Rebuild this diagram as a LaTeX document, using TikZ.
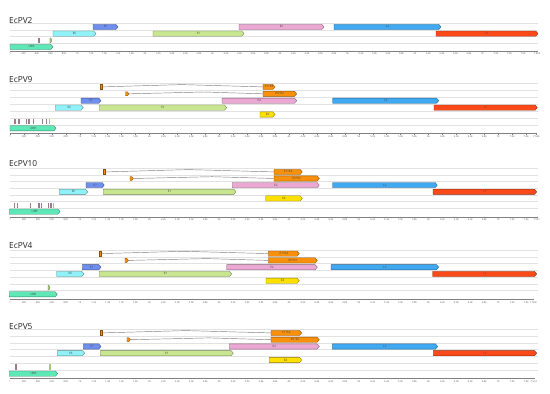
\documentclass[tikz,border=0pt]{standalone}
\usepackage{fontspec}
\setmainfont{Open Sans}
\definecolor{cE7}{HTML}{6F8FF0}
\definecolor{cE6}{HTML}{90F2F8}
\definecolor{cE1}{HTML}{C8E690}
\definecolor{cE2}{HTML}{EAA8D2}
\definecolor{cL2}{HTML}{3FA9F2}
\definecolor{cL1}{HTML}{FA4A1A}
\definecolor{cURR}{HTML}{5EE8B8}
\definecolor{cE4}{HTML}{FFE100}
\definecolor{cOr}{HTML}{F8900C}
\definecolor{cMk}{HTML}{9C7A8C}
\definecolor{cMg}{HTML}{A8C878}
\definecolor{laneg}{HTML}{E2E2E2}
\definecolor{titleg}{HTML}{222222}
\tikzset{
  genebox/.style={line width=0.35pt},
  glabel/.style={font=\fontsize{3}{3}\selectfont, text=black!75, inner sep=0pt},
  ticklbl/.style={font=\fontsize{2.5}{2.5}\selectfont, text=black!65, inner sep=0pt},
  axisln/.style={draw=black!50, line width=0.4pt},
  laneline/.style={draw=laneg, line width=0.6pt},
  intron/.style={draw=black!50, line width=0.45pt},
  ttl/.style={font=\fontsize{8.3}{9}\selectfont, text=titleg, inner sep=0pt, anchor=base west}
}
% gene arrow: name, x1, x2, top, colour, label
\newcommand{\gene}[6]{%
  \filldraw[genebox, fill=#5, draw=#5!55!black] (#2,#4) -- ({#3-2.2},#4) -- (#3,{#4+2.6}) -- ({#3-2.2},{#4+5.2}) -- (#2,{#4+5.2}) -- cycle;
  \node[glabel] (#1) at ({(#2+#3)/2},{#4+2.6}) {#6};
}
% spliced E1^E4: name, exon x, box x1, box x2, top
\newcommand{\spliceA}[5]{%
  \coordinate (#1s) at ({#2+2},{#5+2.6});
  \coordinate (#1p) at ({(#2+#3)/2},{#5+0.3});
  \coordinate (#1b) at (#3,{#5+2.6});
  \draw[intron] (#1s) -- (#1p) -- (#1b);
  \filldraw[genebox, fill=cOr, draw=cOr!55!black] (#2,#5) rectangle ({#2+2},{#5+5.2});
  \gene{#1}{#3}{#4}{#5}{cOr}{E1\textasciicircum E4}
}
% spliced E6^E2: name, exon x, box x1, box x2, top
\newcommand{\spliceB}[5]{%
  \coordinate (#1s) at ({#2+3.4},{#5+2.6});
  \coordinate (#1p) at ({(#2+#3)/2+10},{#5+0.8});
  \coordinate (#1b) at (#3,{#5+2.6});
  \draw[intron] (#1s) -- (#1p) -- (#1b);
  \filldraw[genebox, fill=cOr, draw=cOr!55!black] (#2,{#5+0.6}) -- ({#2+1.8},{#5+0.6}) -- ({#2+3.4},{#5+2.6}) -- ({#2+1.8},{#5+4.6}) -- (#2,{#5+4.6}) -- cycle;
  \gene{#1}{#3}{#4}{#5}{cOr}{E6\textasciicircum E2}
}
% marker bar: x, top, colour
\newcommand{\mk}[3]{%
  \fill[#3] ({#1-0.6},{#2+0.2}) rectangle ({#1+0.6},{#2+5.6});
}
% small marker arrow: x, top
\newcommand{\mka}[2]{%
  \filldraw[fill=cMg, draw=cMg!60!black, line width=0.25pt] ({#1-0.7},{#2+0.4}) -- ({#1+0.2},{#2+0.4}) -- ({#1+1.3},{#2+2.8}) -- ({#1+0.2},{#2+5.2}) -- ({#1-0.7},{#2+5.2}) -- cycle;
}
% lane lines: first top, pitch, count
\newcommand{\lanes}[3]{%
  \foreach \k in {1,...,#3} {
    \draw[laneline] (10,{#1+(\k-1)*#2-0.9}) -- (538,{#1+(\k-1)*#2-0.9});
  }
}
% axis: y, px per 200 bp, end x, end label
\newcommand{\seqaxis}[4]{%
  \draw[axisln] (10,#1) -- (#3,#1);
  \draw[axisln] (10,#1) -- ++(0,1.2);
  \node[ticklbl] at (10,{#1+3.3}) {1};
  \foreach \l [count=\c] in {200,400,600,800,1k,1.2k,1.4k,1.6k,1.8k,2k,2.2k,2.4k,2.6k,2.8k,3k,3.2k,3.4k,3.6k,3.8k,4k,4.2k,4.4k,4.6k,4.8k,5k,5.2k,5.4k,5.6k,5.8k,6k,6.2k,6.4k,6.6k,6.8k,7k,7.2k,7.4k,7.6k,7.8k} {
    \pgfmathsetmacro\xx{10+\c*#2}
    \pgfmathtruncatemacro\ok{\xx<(#3-7) ? 1 : 0}
    \ifnum\ok=1
      \draw[axisln] (\xx,#1) -- ++(0,1.2);
      \node[ticklbl] at (\xx,{#1+3.3}) {\l};
    \fi
  }
  \draw[axisln] (#3,#1) -- ++(0,1.2);
  \node[ticklbl] at (#3,{#1+3.3}) {#4};
}
\begin{document}
\begin{tikzpicture}[x=1pt,y=-1pt]
\useasboundingbox (0,0) rectangle (550,394);
\fill[white] (0,0) rectangle (550,394);

% ---------------- EcPV2 ----------------
\node[ttl] (t1) at (9,23) {EcPV2};
\lanes{24.3}{6.67}{4}
\gene{p1e7}{93}{118}{24.3}{cE7}{E7}
\gene{p1e2}{239}{324}{24.3}{cE2}{E2}
\gene{p1l2}{334}{441}{24.3}{cL2}{L2}
\gene{p1e6}{53}{96}{31}{cE6}{E6}
\gene{p1e1}{153}{244}{31}{cE1}{E1}
\gene{p1l1}{436}{538}{31}{cL1}{L1}
\mk{39}{37.6}{cMk}
\mka{50.6}{37.6}
\gene{p1urr}{10}{53}{44.3}{cURR}{URR}
\seqaxis{50.7}{13.5}{537}{7 802}

% ---------------- EcPV9 ----------------
\node[ttl] (t2) at (9,82) {EcPV9};
\lanes{84.3}{6.9}{7}
\spliceA{p2a}{100}{263}{275}{84.3}
\spliceB{p2b}{125.5}{263}{296.7}{91.2}
\gene{p2e7}{81}{101}{98.1}{cE7}{E7}
\gene{p2e2}{222}{296.7}{98.1}{cE2}{E2}
\gene{p2l2}{332.7}{438.7}{98.1}{cL2}{L2}
\gene{p2e6}{55.3}{83.3}{105}{cE6}{E6}
\gene{p2e1}{99.3}{226.7}{105}{cE1}{E1}
\gene{p2l1}{434}{537.3}{105}{cL1}{L1}
\gene{p2e4}{260}{275}{111.9}{cE4}{E4}
\foreach \m in {15,19,26.7,29,33.3,42.3,46.7} {\mk{\m}{118.8}{cMk}}
\mk{49.3}{118.8}{cMg}
\gene{p2urr}{10}{56}{125.7}{cURR}{URR}
\seqaxis{133.3}{13.95}{536.3}{7 548}

% ---------------- EcPV10 ----------------
\node[ttl] (t3) at (9,166.7) {EcPV10};
\lanes{169.3}{6.62}{7}
\spliceA{p3a}{103.5}{274}{302.3}{169.3}
\spliceB{p3b}{130}{274}{319.3}{175.9}
\gene{p3e7}{86}{104.3}{182.5}{cE7}{E7}
\gene{p3e2}{232.3}{319.3}{182.5}{cE2}{E2}
\gene{p3l2}{332.7}{437.3}{182.5}{cL2}{L2}
\gene{p3e6}{59.3}{87.7}{189.2}{cE6}{E6}
\gene{p3e1}{103.3}{236}{189.2}{cE1}{E1}
\gene{p3l1}{433}{536.7}{189.2}{cL1}{L1}
\gene{p3e4}{265.7}{302.3}{195.8}{cE4}{E4}
\foreach \m in {14.3,17.3,30.7,39,41.7,48.7,51} {\mk{\m}{202.4}{cMk}}
\mk{53.7}{202.4}{cMg}
\gene{p3urr}{9.3}{60}{209}{cURR}{URR}
\seqaxis{216.7}{13.95}{536.7}{7 551}

% ---------------- EcPV4 ----------------
\node[ttl] (t4) at (9,248.3) {EcPV4};
\lanes{251}{6.78}{7}
\spliceA{p4a}{99}{268.3}{299.3}{251}
\spliceB{p4b}{125}{268.3}{317.3}{257.8}
\gene{p4e7}{82.3}{101}{264.6}{cE7}{E7}
\gene{p4e2}{226.7}{317.3}{264.6}{cE2}{E2}
\gene{p4l2}{331}{438.7}{264.6}{cL2}{L2}
\gene{p4e6}{56.7}{84}{271.3}{cE6}{E6}
\gene{p4e1}{99.3}{231.7}{271.3}{cE1}{E1}
\gene{p4l1}{432.7}{536.7}{271.3}{cL1}{L1}
\gene{p4e4}{266}{299.3}{278.1}{cE4}{E4}
\mka{48.7}{284.9}
\gene{p4urr}{9.3}{57.3}{291.7}{cURR}{URR}
\seqaxis{299}{13.95}{533.4}{7 504}

% ---------------- EcPV5 ----------------
\node[ttl] (t5) at (9,329) {EcPV5};
\lanes{330.3}{6.78}{7}
\spliceA{p5a}{100}{271}{301.7}{330.3}
\spliceB{p5b}{127}{271}{319.3}{337.1}
\gene{p5e7}{83.3}{101}{343.9}{cE7}{E7}
\gene{p5e2}{229.3}{319.3}{343.9}{cE2}{E2}
\gene{p5l2}{332.3}{437.7}{343.9}{cL2}{L2}
\gene{p5e6}{57.3}{84.7}{350.6}{cE6}{E6}
\gene{p5e1}{100.3}{233.3}{350.6}{cE1}{E1}
\gene{p5l1}{433.3}{536.7}{350.6}{cL1}{L1}
\gene{p5e4}{269.3}{301.7}{357.4}{cE4}{E4}
\mk{16}{364.2}{cMk}
\mk{50}{364.2}{cMg}
\gene{p5urr}{9.3}{57.7}{371}{cURR}{URR}
\seqaxis{377.9}{13.95}{533.8}{7 510}
\end{tikzpicture}
\end{document}
